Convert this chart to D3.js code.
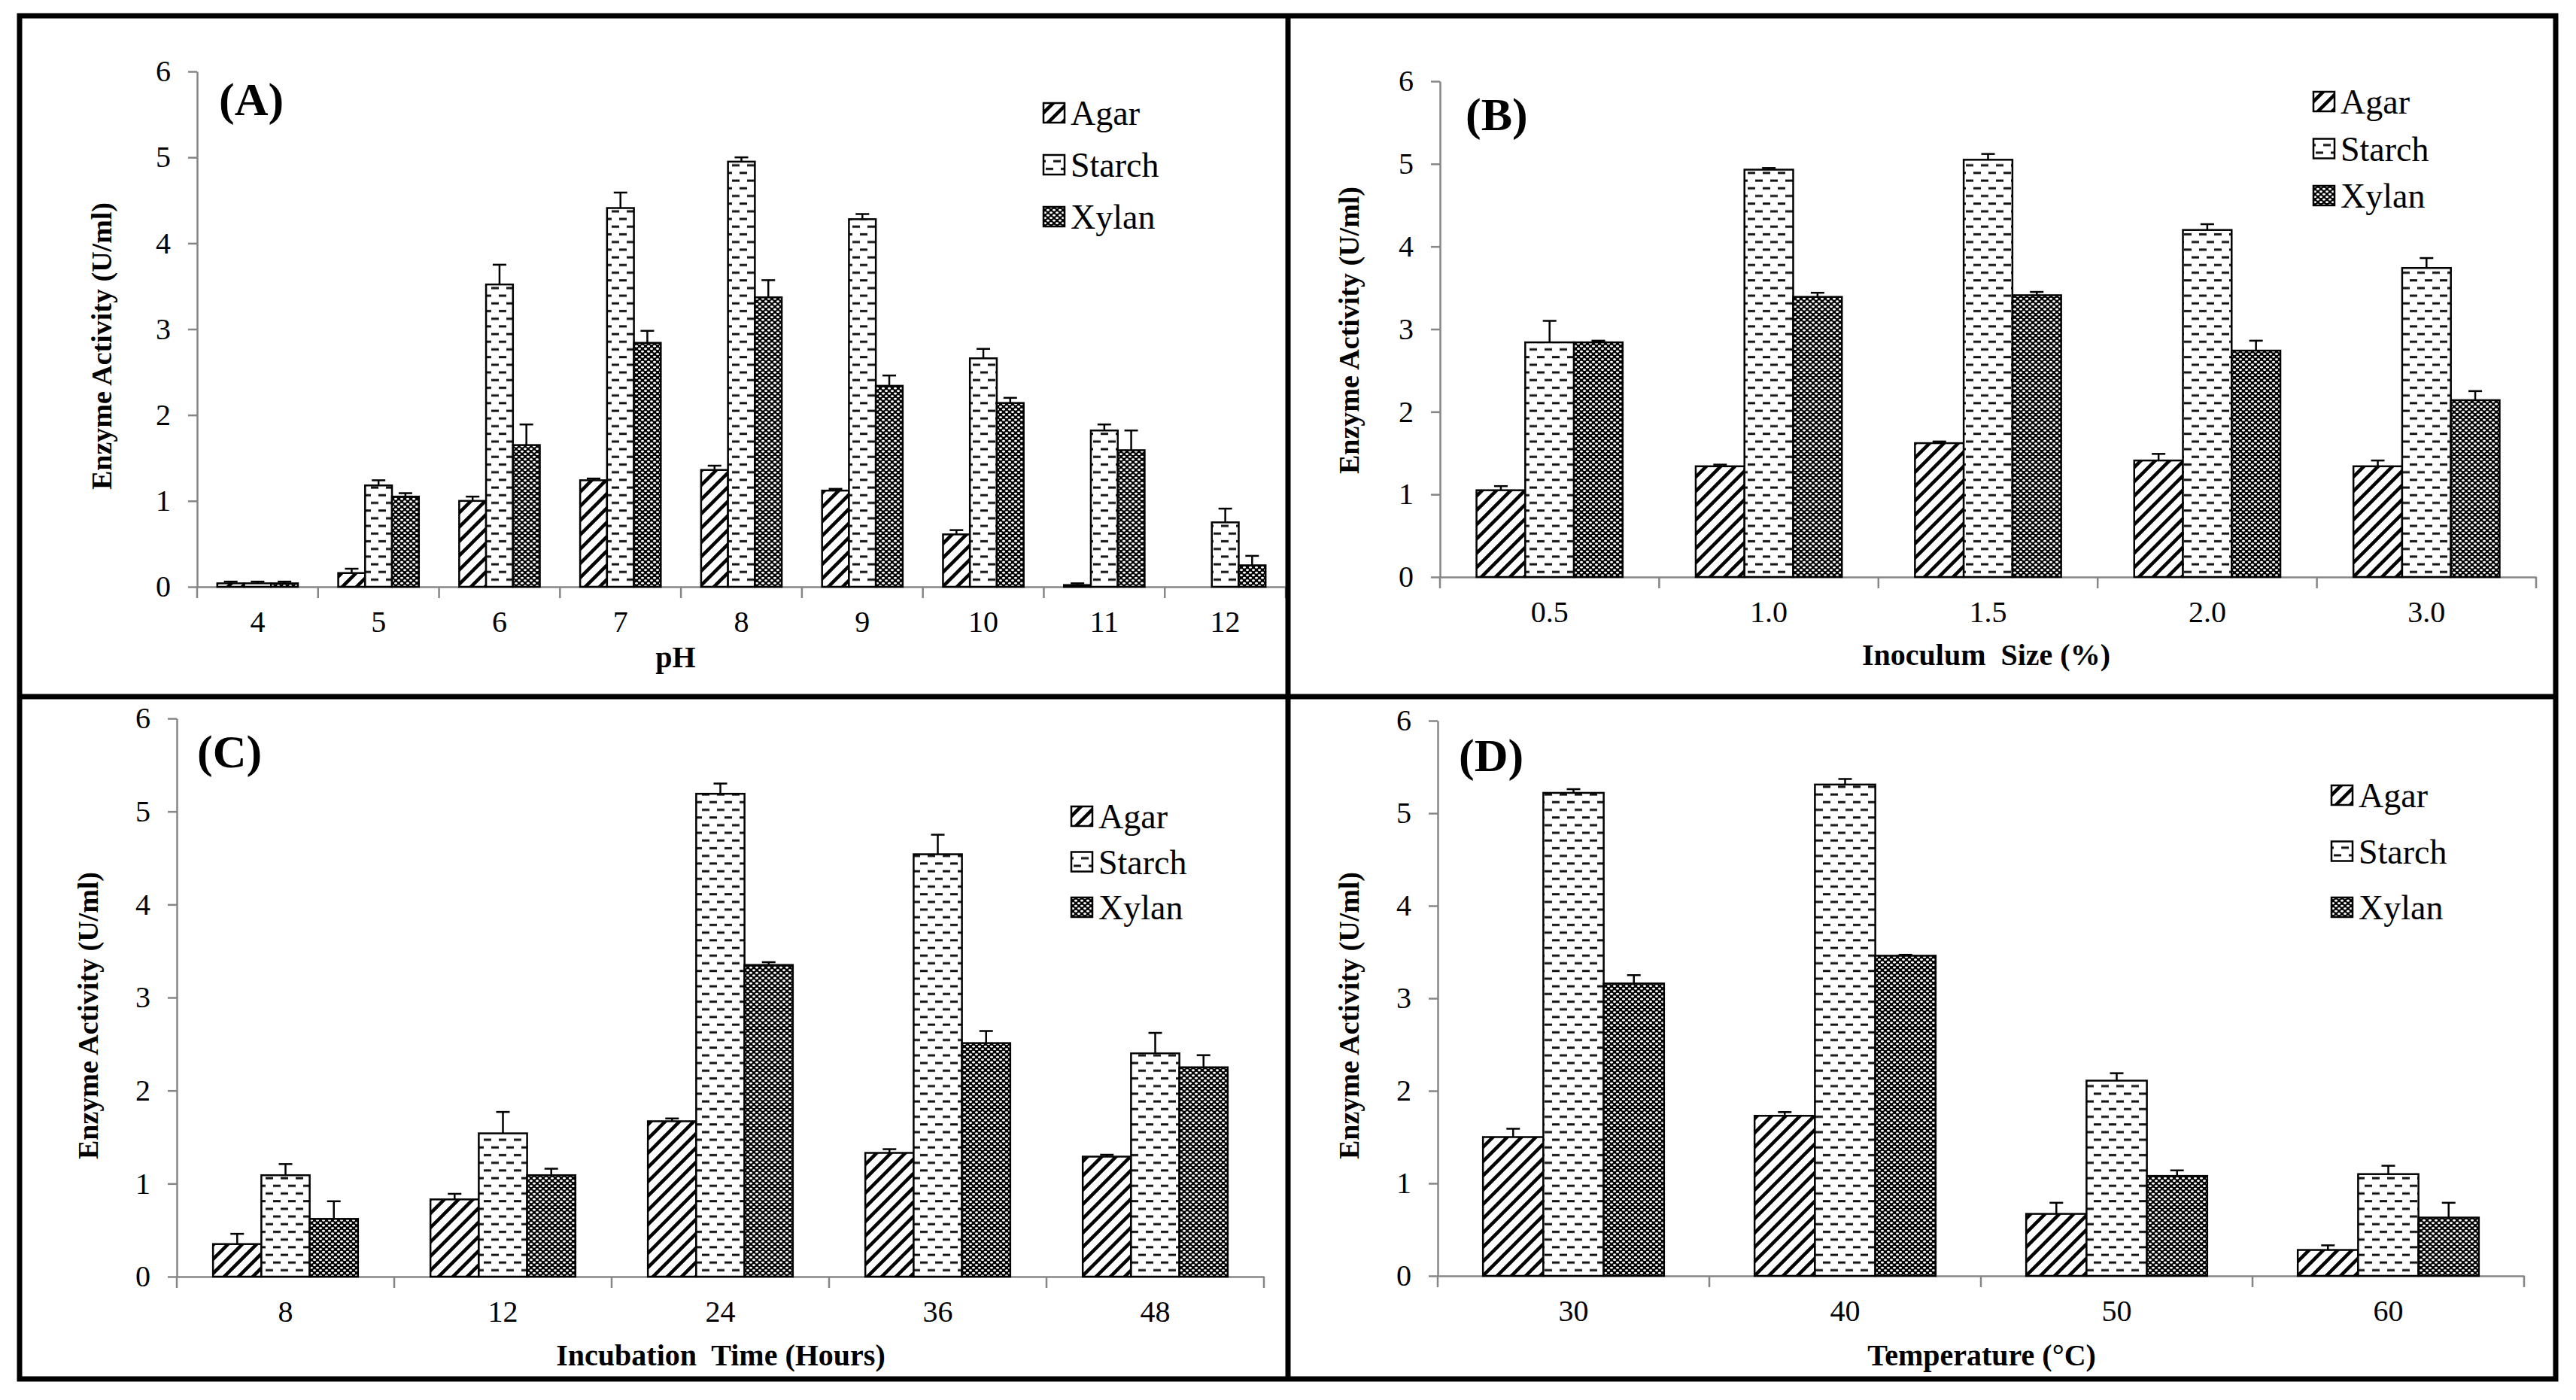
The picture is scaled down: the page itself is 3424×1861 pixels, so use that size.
<!DOCTYPE html>
<html>
<head>
<meta charset="utf-8">
<script src="https://cdnjs.cloudflare.com/ajax/libs/d3/7.8.5/d3.min.js"></script>
<style>
  body { margin: 0; background: #fff; }
  svg { display: block; }
  text { font-family: "Liberation Serif", "Times New Roman", serif; fill: #000; }
</style>
</head>
<body>
<div id="chart-area"></div>
<script>
// ---- data ----
var seriesNames = ["Agar", "Starch", "Xylan"];
var yTicks = [0, 1, 2, 3, 4, 5, 6];

// (A) pH
var phCats = ["4", "5", "6", "7", "8", "9", "10", "11", "12"];
var phAgar = [0.04, 0.16, 1.00, 1.24, 1.36, 1.12, 0.61, 0.02, 0];
var phAgarErr = [0.02, 0.05, 0.05, 0.02, 0.05, 0.02, 0.05, 0.02, 0];
var phStarch = [0.04, 1.18, 3.52, 4.41, 4.95, 4.28, 2.66, 1.82, 0.75];
var phStarchErr = [0.02, 0.06, 0.23, 0.18, 0.05, 0.06, 0.11, 0.07, 0.16];
var phXylan = [0.04, 1.05, 1.65, 2.84, 3.37, 2.34, 2.14, 1.59, 0.25];
var phXylanErr = [0.02, 0.04, 0.24, 0.14, 0.20, 0.12, 0.06, 0.23, 0.11];

// (B) inoculum size
var inocCats = ["0.5", "1.0", "1.5", "2.0", "3.0"];
var inocAgar = [1.05, 1.34, 1.62, 1.41, 1.34];
var inocAgarErr = [0.05, 0.02, 0.02, 0.08, 0.07];
var inocStarch = [2.84, 4.93, 5.05, 4.20, 3.74];
var inocStarchErr = [0.26, 0.02, 0.07, 0.07, 0.12];
var inocXylan = [2.84, 3.39, 3.41, 2.74, 2.14];
var inocXylanErr = [0.02, 0.05, 0.04, 0.12, 0.11];

// (C) incubation time
var timeCats = ["8", "12", "24", "36", "48"];
var timeAgar = [0.35, 0.83, 1.67, 1.33, 1.29];
var timeAgarErr = [0.11, 0.06, 0.03, 0.04, 0.02];
var timeStarch = [1.09, 1.54, 5.19, 4.54, 2.40];
var timeStarchErr = [0.12, 0.23, 0.11, 0.21, 0.22];
var timeXylan = [0.62, 1.09, 3.35, 2.51, 2.25];
var timeXylanErr = [0.19, 0.07, 0.03, 0.13, 0.13];

// (D) temperature
var tempCats = ["30", "40", "50", "60"];
var tempAgar = [1.50, 1.73, 0.67, 0.28];
var tempAgarErr = [0.09, 0.04, 0.12, 0.05];
var tempStarch = [5.22, 5.31, 2.11, 1.10];
var tempStarchErr = [0.04, 0.06, 0.08, 0.09];
var tempXylan = [3.16, 3.46, 1.08, 0.63];
var tempXylanErr = [0.09, 0.01, 0.06, 0.16];

// ---- layout ----
var W = 3424, H = 1861;
var panels = [
    { label: "(A)", xTitle: "pH", cats: phCats,
      vals: [phAgar, phStarch, phXylan], errs: [phAgarErr, phStarchErr, phXylanErr],
      left: 262, right: 1709, y0: 780, y6: 95,
      xt: [898, 887], yt: [135, 460], lab: [291, 153], leg: { x: 1387, y: 150, dy: 69 } },
    { label: "(B)", xTitle: "Inoculum  Size (%)", cats: inocCats,
      vals: [inocAgar, inocStarch, inocXylan], errs: [inocAgarErr, inocStarchErr, inocXylanErr],
      left: 1914, right: 3371, y0: 767, y6: 108,
      xt: [2640, 884], yt: [1793, 439], lab: [1948, 173], leg: { x: 3075, y: 135, dy: 62.5 } },
    { label: "(C)", xTitle: "Incubation  Time (Hours)", cats: timeCats,
      vals: [timeAgar, timeStarch, timeXylan], errs: [timeAgarErr, timeStarchErr, timeXylanErr],
      left: 235, right: 1680, y0: 1697, y6: 955,
      xt: [958, 1815], yt: [117, 1350], lab: [262, 1020], leg: { x: 1424, y: 1085, dy: 60.5 } },
    { label: "(D)", xTitle: "Temperature (\u00B0C)", cats: tempCats,
      vals: [tempAgar, tempStarch, tempXylan], errs: [tempAgarErr, tempStarchErr, tempXylanErr],
      left: 1911, right: 3355, y0: 1696, y6: 958,
      xt: [2634, 1815], yt: [1793, 1350], lab: [1939, 1025], leg: { x: 3099, y: 1057, dy: 74.5 } }
];
var fills = ["url(#pat-agar)", "url(#pat-starch)", "url(#pat-xylan)"];

var svg = d3.select("#chart-area")
    .append("svg")
        .attr("width", W)
        .attr("height", H);

svg.append("rect").attr("width", W).attr("height", H).attr("fill", "#fff");

// Patterns
var defs = svg.append("defs");

var pa = defs.append("pattern")
    .attr("id", "pat-agar")
    .attr("patternUnits", "userSpaceOnUse")
    .attr("width", 19).attr("height", 19);
pa.append("rect").attr("width", 19).attr("height", 19).attr("fill", "#fff");
pa.append("path")
    .attr("d", "M-5,5L5,-5M0,19L19,0M14,24L24,14")
    .attr("stroke", "#000").attr("stroke-width", 4.5);

var ps = defs.append("pattern")
    .attr("id", "pat-starch")
    .attr("patternUnits", "userSpaceOnUse")
    .attr("width", 20).attr("height", 20.4);
ps.append("rect").attr("width", 20).attr("height", 20.4).attr("fill", "#fff");
[[3, 4], [13, 14.2], [-7, 14.2]].forEach(function(p){
    ps.append("rect").attr("x", p[0]).attr("y", p[1])
        .attr("width", 10).attr("height", 3).attr("fill", "#111");
});

var px = defs.append("pattern")
    .attr("id", "pat-xylan")
    .attr("patternUnits", "userSpaceOnUse")
    .attr("width", 8).attr("height", 7);
px.append("rect").attr("width", 8).attr("height", 7).attr("fill", "#000");
[[2, 1.75], [6, 5.25]].forEach(function(p){
    px.append("ellipse").attr("cx", p[0]).attr("cy", p[1])
        .attr("rx", 2).attr("ry", 1.4).attr("fill", "#fff");
});

panels.forEach(function(p){
    var g = svg.append("g");

    // Scales
    var x0 = d3.scaleBand()
        .domain(p.cats)
        .range([p.left, p.right])
        .padding(0);
    var bw = x0.bandwidth() / 4.5;   // Excel gap width 150%
    var x1 = d3.scaleBand()
        .domain(seriesNames)
        .range([0.75 * bw, x0.bandwidth() - 0.75 * bw])
        .padding(0);
    var y = d3.scaleLinear()
        .domain([0, 6])
        .range([p.y0, p.y6]);

    // Y Axis
    var yAxisCall = d3.axisLeft(y)
        .tickValues(yTicks)
        .tickSize(12)
        .tickSizeOuter(0)
        .tickPadding(23)
        .tickFormat(d3.format("d"));
    var ya = g.append("g")
        .attr("transform", "translate(" + p.left + ",0)")
        .call(yAxisCall);
    ya.selectAll("path, line").attr("stroke", "#868686").attr("stroke-width", 2.5);
    ya.selectAll("text").attr("font-size", "40px")
        .attr("font-family", "Liberation Serif").attr("fill", "#000");

    // X Axis (labels at band centres, ticks at band edges)
    var xAxisCall = d3.axisBottom(x0)
        .tickSize(0)
        .tickSizeOuter(0)
        .tickPadding(32);
    var xa = g.append("g")
        .attr("transform", "translate(0," + p.y0 + ")")
        .call(xAxisCall);
    xa.select(".domain").attr("stroke", "#868686").attr("stroke-width", 2.5);
    xa.selectAll("text").attr("font-size", "40px")
        .attr("font-family", "Liberation Serif").attr("fill", "#000");
    var edges = p.cats.map(function(c){ return x0(c); }).concat([p.right]);
    g.selectAll(".xtick").data(edges).enter()
        .append("line")
        .attr("class", "xtick")
        .attr("x1", function(d){ return d; })
        .attr("x2", function(d){ return d; })
        .attr("y1", p.y0)
        .attr("y2", p.y0 + 15)
        .attr("stroke", "#868686")
        .attr("stroke-width", 2.5);

    // Bars
    seriesNames.forEach(function(s, si){
        var rows = p.cats.map(function(c, ci){
            return { cat: c, v: p.vals[si][ci], e: p.errs[si][ci] };
        }).filter(function(d){ return d.v > 0; });

        g.selectAll(".bar-" + si).data(rows).enter()
            .append("rect")
            .attr("class", "bar-" + si)
            .attr("x", function(d){ return x0(d.cat) + x1(s); })
            .attr("y", function(d){ return y(d.v); })
            .attr("width", x1.bandwidth())
            .attr("height", function(d){ return y(0) - y(d.v); })
            .attr("fill", fills[si])
            .attr("stroke", "#000")
            .attr("stroke-width", 2.5);

        // Error bars (upper only)
        var eb = g.selectAll(".err-" + si).data(rows.filter(function(d){ return d.e > 0; }))
            .enter().append("g").attr("class", "err-" + si);
        eb.append("line")
            .attr("x1", function(d){ return x0(d.cat) + x1(s) + x1.bandwidth() / 2; })
            .attr("x2", function(d){ return x0(d.cat) + x1(s) + x1.bandwidth() / 2; })
            .attr("y1", function(d){ return y(d.v); })
            .attr("y2", function(d){ return y(d.v + d.e); })
            .attr("stroke", "#000").attr("stroke-width", 2.5);
        eb.append("line")
            .attr("x1", function(d){ return x0(d.cat) + x1(s) + x1.bandwidth() / 2 - 9; })
            .attr("x2", function(d){ return x0(d.cat) + x1(s) + x1.bandwidth() / 2 + 9; })
            .attr("y1", function(d){ return y(d.v + d.e); })
            .attr("y2", function(d){ return y(d.v + d.e); })
            .attr("stroke", "#000").attr("stroke-width", 2.5);
    });

    // Labels
    g.append("text")
        .attr("x", p.xt[0])
        .attr("y", p.xt[1])
        .attr("text-anchor", "middle")
        .attr("font-size", "40px")
        .attr("font-weight", "bold")
        .style("white-space", "pre")
        .text(p.xTitle);

    g.append("text")
        .attr("transform", "translate(" + p.yt[0] + "," + p.yt[1] + ") rotate(-90)")
        .attr("text-anchor", "middle")
        .attr("dominant-baseline", "central")
        .attr("font-size", "38px")
        .attr("font-weight", "bold")
        .text("Enzyme Activity (U/ml)");

    g.append("text")
        .attr("x", p.lab[0])
        .attr("y", p.lab[1])
        .attr("font-size", "62px")
        .attr("font-weight", "bold")
        .text(p.label);

    // Legend
    seriesNames.forEach(function(s, i){
        var row = g.append("g")
            .attr("transform", "translate(" + p.leg.x + "," + (p.leg.y + i * p.leg.dy) + ")");
        row.append("rect")
            .attr("x", 0).attr("y", -13)
            .attr("width", 28).attr("height", 26)
            .attr("fill", fills[i])
            .attr("stroke", "#000")
            .attr("stroke-width", 2.5);
        row.append("text")
            .attr("x", 36)
            .attr("y", 16)
            .attr("font-size", "46px")
            .text(s);
    });
});

// Panel frames
var frame = svg.append("g")
    .attr("fill", "none")
    .attr("stroke", "#000")
    .attr("stroke-width", 7);
frame.append("rect").attr("x", 26).attr("y", 21).attr("width", 3397 - 26).attr("height", 1833 - 21);
frame.append("line").attr("x1", 1712).attr("x2", 1712).attr("y1", 21).attr("y2", 1833);
frame.append("line").attr("x1", 26).attr("x2", 3397).attr("y1", 926).attr("y2", 926);
</script>
</body>
</html>
